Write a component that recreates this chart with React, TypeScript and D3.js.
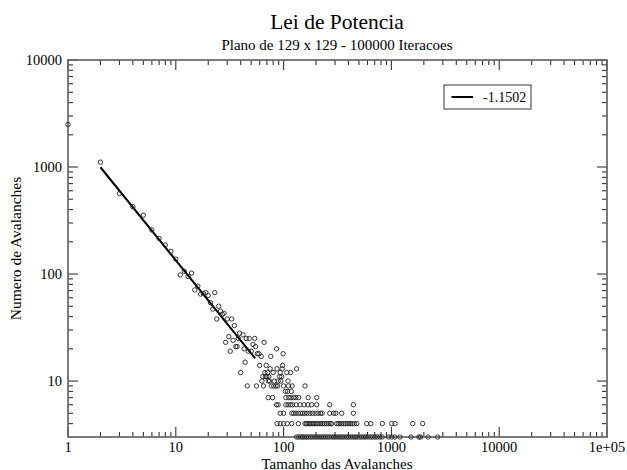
import React from "react";
import * as d3 from "d3";

// ---- data ----
const bigSizes = [1,2,3,4,5,6,7,8,9,10,11,12,13,14,15,16,17,18,19,20,21,22,23,24,25,26,27,28,29,30,31,32,33,34,35,36,37,38,39,42,43,44,45,47,48,50,52,54,55,57,59,60,62,66,69,76,86,98,99];
const bigCounts = [2500,1110,565,425,355,258,215,187,163,138,98,106,95,102,71,77,65,66,67,63,54,47,67,38,50,45,42,43,23,38,26,19,38,24,33,21,21,25,28,27,20,15,25,19,25,19,22,25,21,18,18,14,17,23,14,17,20,14,18];

const sizesCount13 = [75, 87, 97, 132];
const sizesCount12 = [40, 67, 71, 80, 93, 107, 116];
const sizesCount11 = [64, 68, 70, 73, 92, 96];
const sizesCount10 = [63, 72, 74, 82, 89, 94, 110];
const sizesCount9 = [46, 56, 65, 77, 81, 85, 88, 100, 111, 120, 158];
const sizesCount8 = [104, 109, 118];
const sizesCount7 = [72, 79, 105, 112, 117, 124, 130, 138, 169, 203];
const sizesCount6 = [86, 89, 105, 110, 116, 121, 131, 142, 155, 168, 182, 203, 268, 444];
const sizesCount5 = [93, 100, 119, 124, 130, 137, 144, 150, 157, 165, 175, 185, 196, 208, 220, 228, 268, 292, 305, 346, 444];
const sizesCount4 = [87, 93, 100, 108, 119, 137, 158, 163, 168, 174, 180, 186, 192, 199, 206, 214, 222, 231, 240, 250, 260, 270, 279, 311, 322, 334, 346, 360, 374, 390, 405, 420, 437, 455, 478, 590, 643, 824, 1007, 1080, 1578, 1950];
const sizesCount3 = [132, 138, 145, 150, 156, 163, 170, 178, 186, 195, 204, 213, 223, 233, 244, 255, 267, 280, 293, 306, 320, 335, 350, 366, 383, 400, 420, 440, 460, 480, 505, 530, 555, 580, 610, 640, 670, 705, 740, 780, 820, 940, 1010, 1080, 1200, 1520, 1800, 1860, 2190, 2690];

const fitSizes = [2, 54.5];
const fitCounts = [995, 16.3];
const fitLabel = "-1.1502";

const xTickValues = [1, 10, 100, 1000, 10000, 100000];
const xTickLabels = ["1", "10", "100", "1000", "10000", "1e+05"];
const yTickValues = [10, 100, 1000, 10000];
const yTickLabels = ["10", "100", "1000", "10000"];

const title = "Lei de Potencia";
const subtitle = "Plano de 129 x 129 - 100000 Iteracoes";
const xTitle = "Tamanho das Avalanches";
const yTitle = "Numero de Avalanches";

// ---- layout ----
const W = 627, H = 470;
const L = 68, R = 607, T = 60, B = 437;
const FONT = "'Liberation Serif', 'Times New Roman', Times, serif";

export default function App() {
  const x = d3.scaleLog().domain([1, 1e5]).range([L, R]);
  const y = d3.scaleLog().domain([3, 10000]).range([B, T]);

  const rows: [number[], number][] = [
    [sizesCount13, 13], [sizesCount12, 12], [sizesCount11, 11], [sizesCount10, 10],
    [sizesCount9, 9], [sizesCount8, 8], [sizesCount7, 7], [sizesCount6, 6],
    [sizesCount5, 5], [sizesCount4, 4], [sizesCount3, 3],
  ];
  const points: { s: number; c: number }[] = [];
  bigSizes.forEach((s, i) => points.push({ s, c: bigCounts[i] }));
  rows.forEach(([arr, c]) => arr.forEach((s) => points.push({ s, c })));

  const xMinor: number[] = [];
  for (let d = 1; d < 1e5; d *= 10) for (let k = 2; k <= 9; k++) xMinor.push(d * k);
  const yMinor: number[] = [];
  for (let d = 1; d < 10000; d *= 10) for (let k = 2; k <= 9; k++) { const v = d * k; if (v > 3) yMinor.push(v); }

  const line = d3.line<number>().x((d, i) => x(fitSizes[i])).y((d) => y(d));

  const tickColor = "#333";
  const major = 10, minor = 5;

  return (
    <svg width={W} height={H} style={{ position: "absolute", left: 0, top: 0, background: "#fff" }} fontFamily={FONT}>
      <rect x={0} y={0} width={W} height={H} fill="#fff" />
      <text x={337} y={29} textAnchor="middle" fontSize={21.5}>{title}</text>
      <text x={337} y={50} textAnchor="middle" fontSize={15}>{subtitle}</text>

      {/* ticks */}
      <g stroke={tickColor} strokeWidth={1.1}>
        {xTickValues.map((v) => (
          <g key={"xm" + v}>
            <line x1={x(v)} x2={x(v)} y1={B} y2={B - major} />
            <line x1={x(v)} x2={x(v)} y1={T} y2={T + major} />
          </g>
        ))}
        {xMinor.map((v) => (
          <g key={"xn" + v}>
            <line x1={x(v)} x2={x(v)} y1={B} y2={B - minor} />
            <line x1={x(v)} x2={x(v)} y1={T} y2={T + minor} />
          </g>
        ))}
        {yTickValues.map((v) => (
          <g key={"ym" + v}>
            <line x1={L} x2={L + major} y1={y(v)} y2={y(v)} />
            <line x1={R} x2={R - major} y1={y(v)} y2={y(v)} />
          </g>
        ))}
        {yMinor.map((v) => (
          <g key={"yn" + v}>
            <line x1={L} x2={L + minor} y1={y(v)} y2={y(v)} />
            <line x1={R} x2={R - minor} y1={y(v)} y2={y(v)} />
          </g>
        ))}
      </g>
      <rect x={L} y={T} width={R - L} height={B - T} fill="none" stroke="#666" strokeWidth={1.7} />

      {xTickValues.map((v, i) => (
        <text key={"xl" + v} x={x(v)} y={452} textAnchor="middle" fontSize={14.5}>{xTickLabels[i]}</text>
      ))}
      {yTickValues.map((v, i) => (
        <text key={"yl" + v} x={62} y={y(v) + 5} textAnchor="end" fontSize={14.5}>{yTickLabels[i]}</text>
      ))}
      <text x={337} y={468.5} textAnchor="middle" fontSize={15}>{xTitle}</text>
      <text transform={`translate(21, ${(T + B) / 2}) rotate(-90)`} textAnchor="middle" fontSize={15.5}>{yTitle}</text>

      {/* fit line */}
      <path d={line(fitCounts) || ""} fill="none" stroke="#000" strokeWidth={2} />

      {/* points */}
      <g fill="none" stroke="#222" strokeWidth={0.9}>
        {points.map((p, i) => (
          <circle key={i} cx={x(p.s)} cy={y(p.c)} r={2.2} />
        ))}
      </g>

      {/* legend */}
      <rect x={444} y={85} width={87} height={24} fill="#fff" stroke="#555" strokeWidth={1.2} />
      <line x1={451.5} x2={473} y1={97} y2={97} stroke="#000" strokeWidth={2} />
      <text x={483} y={102} fontSize={14}>{fitLabel}</text>
    </svg>
  );
}
